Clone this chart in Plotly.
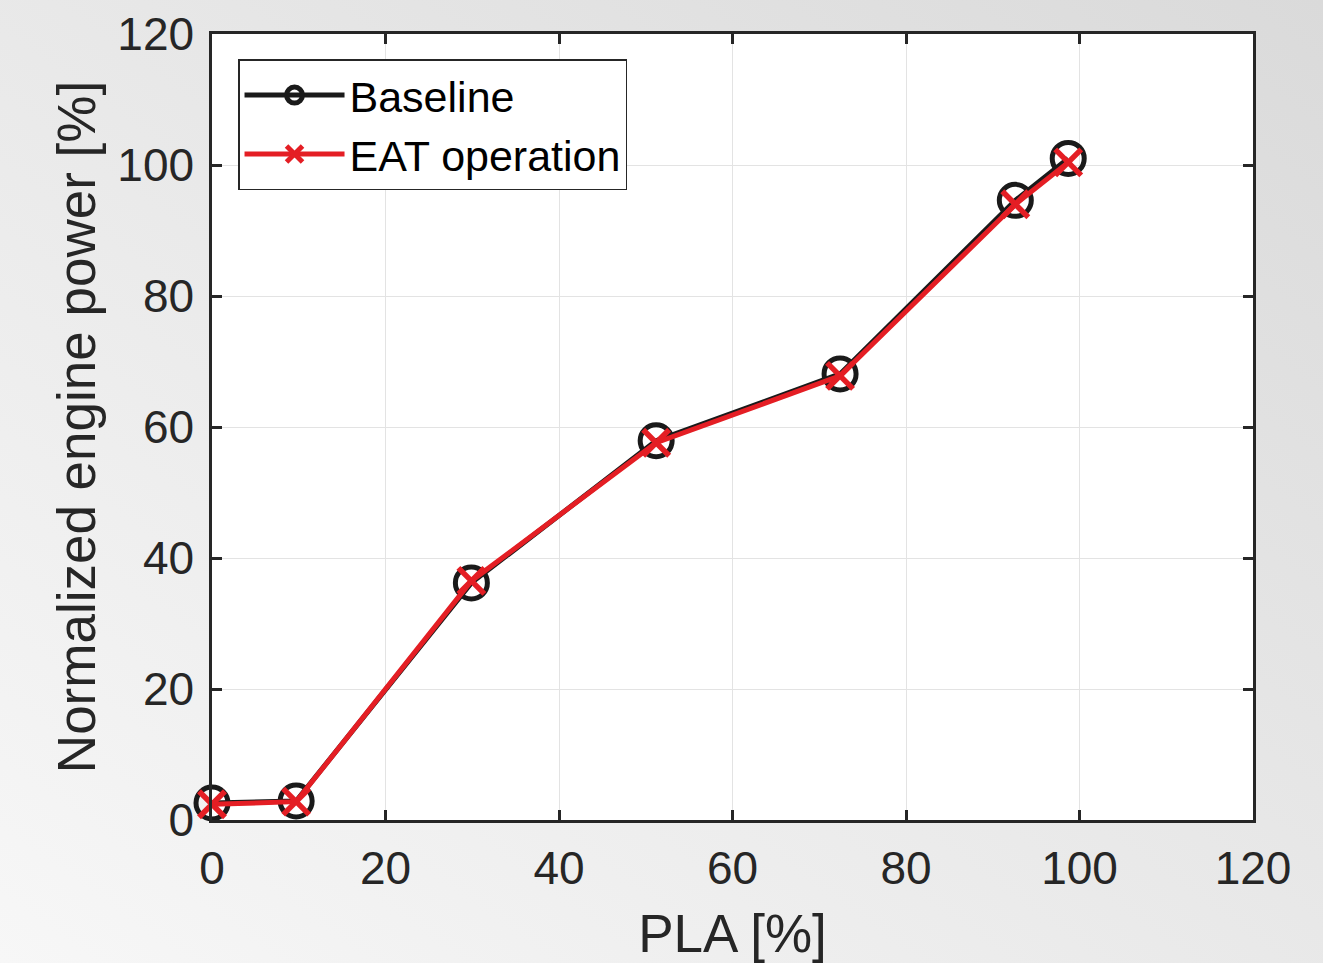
import base64
import plotly.graph_objects as go

# ---- data ----
pla = [0, 9.7, 29.9, 51.2, 72.4, 92.6, 98.7]
baseline = [2.6, 2.9, 36.2, 57.9, 68.1, 94.6, 101.0]
eat_operation = [2.4, 2.8, 36.5, 57.6, 67.8, 94.0, 100.4]
x_ticks = [0, 20, 40, 60, 80, 100, 120]
y_ticks = [0, 20, 40, 60, 80, 100, 120]

W, H = 1323, 963
ml, mr, mt, mb = 212, 70, 34, 143
pw = W - ml - mr
ph = H - mt - mb

fig = go.Figure()
fig.add_trace(go.Scatter(
    x=pla, y=baseline, name="Baseline", mode="lines+markers", cliponaxis=False,
    line=dict(color="#1a1a1a", width=5),
    marker=dict(symbol="circle-open", size=32, color="#1a1a1a", line=dict(width=5)),
))
fig.add_trace(go.Scatter(
    x=pla, y=eat_operation, name="EAT operation", mode="lines+markers", cliponaxis=False,
    line=dict(color="#e41e24", width=5),
    marker=dict(symbol="x-thin-open", size=26, color="#e41e24", line=dict(width=5.5, color="#e41e24")),
))

svg = f'''<svg xmlns="http://www.w3.org/2000/svg" width="{W}" height="{H}" viewBox="0 0 {W} {H}">
<defs><linearGradient id="g" x1="0" y1="1" x2="1" y2="0">
<stop offset="0" stop-color="#f7f7f7"/><stop offset="1" stop-color="#dadada"/>
</linearGradient></defs>
<rect width="{W}" height="{H}" fill="url(#g)"/></svg>'''
src = "data:image/svg+xml;base64," + base64.b64encode(svg.encode()).decode()
fig.add_layout_image(dict(
    source=src, xref="paper", yref="paper",
    x=-ml / pw, y=1 + mt / ph, sizex=W / pw, sizey=H / ph,
    xanchor="left", yanchor="top", sizing="stretch", layer="below",
))
# white plot area on top of the gradient
fig.add_shape(type="rect", xref="paper", yref="paper", x0=0, x1=1, y0=0, y1=1,
              fillcolor="white", line=dict(width=0), layer="below")

axis_common = dict(
    showgrid=True, gridcolor="#e3e3e3", gridwidth=1.2,
    showline=True, linecolor="#262626", linewidth=2.5, mirror="ticks",
    ticks="inside", ticklen=10, tickwidth=2.5, tickcolor="#262626",
    zeroline=False,
    tickfont=dict(family="Liberation Sans, Arial", size=46, color="#262626"),
)

fig.update_layout(
    width=W, height=H,
    margin=dict(l=ml, r=mr, t=mt, b=mb, autoexpand=False),
    paper_bgcolor="#e8e8e8", plot_bgcolor="white",
    font=dict(family="Liberation Sans, Arial", color="#262626"),
    xaxis=dict(range=[0, 120], tickvals=x_ticks, ticklabelstandoff=6,
               title=dict(text="PLA [%]", font=dict(size=53, color="#262626"), standoff=26),
               **axis_common),
    yaxis=dict(range=[0, 120], tickvals=y_ticks, ticklabelstandoff=6,
               title=dict(text="Normalized engine power [%]", font=dict(size=53, color="#262626"), standoff=5),
               **axis_common),
    legend=dict(
        x=0.025, y=0.968, xanchor="left", yanchor="top",
        bgcolor="white", bordercolor="#262626", borderwidth=1.5,
        font=dict(family="Liberation Sans, Arial", size=43, color="black"),
        itemsizing="trace", itemwidth=100,
        tracegroupgap=0,
    ),
    showlegend=True,
)

fig.write_html("out.html", config={"displayModeBar": False},
               post_script="document.body.style.margin='0';")
